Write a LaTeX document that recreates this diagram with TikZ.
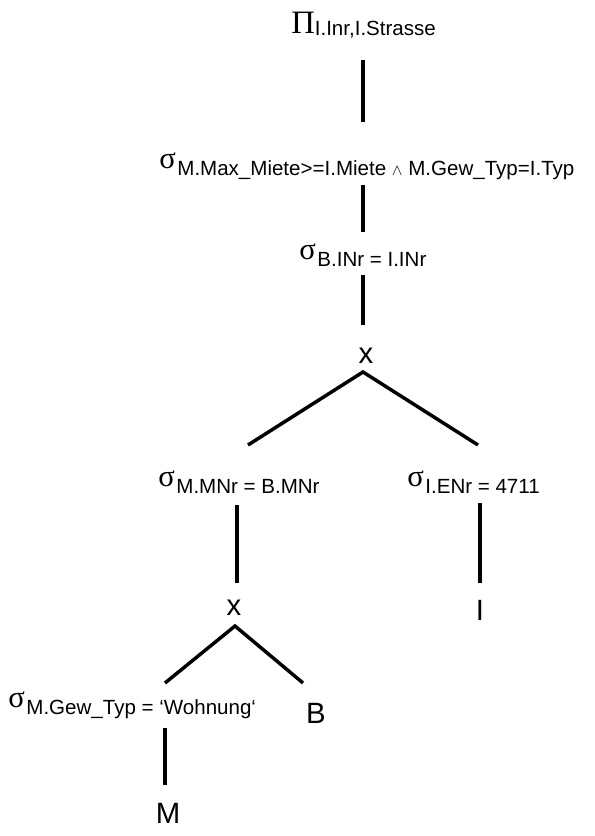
\documentclass[tikz,border=0pt]{standalone}
\usepackage{fontspec}
\setmainfont{Liberation Sans}
\newfontfamily\seriffont{Liberation Serif}
\newcommand{\subfnt}{\fontsize{15.4}{18}\selectfont}
\newcommand{\bigfnt}{\fontsize{22}{26}\selectfont}
\newcommand{\sigfnt}{\seriffont\fontsize{23}{26}\selectfont}
\newcommand{\opsel}[1]{{\sigfnt σ}\kern1.2pt\raisebox{-5.6pt}{\subfnt #1}}
\tikzset{
  lbl/.style={inner sep=0pt, anchor=base west},
  bigl/.style={inner sep=0pt, anchor=base, font=\bigfnt},
  edge/.style={line width=2.6pt, line cap=butt}
}
\begin{document}
\begin{tikzpicture}[x=0.75pt,y=-0.75pt]
\path[use as bounding box, fill=white] (0,0) rectangle (594,836);

% labels
\node[lbl] (proj) at (291,33) {{\seriffont\fontsize{24.5}{28}\selectfont Π}\raisebox{-1.5pt}{\subfnt I.Inr,I.Strasse}};
\node[lbl] (sel1) at (159,168.5) {\opsel{M.Max\_Miete>=I.Miete {\fontsize{12}{14}\selectfont$\wedge$} M.Gew\_Typ=I.Typ}};
\node[lbl] (sel2) at (299,259.5) {\opsel{B.INr = I.INr}};
\node[bigl] (x1) at (366,363) {x};
\node[lbl] (sel3) at (158,486.5) {\opsel{M.MNr = B.MNr}};
\node[lbl] (sel4) at (407,486.5) {\opsel{I.ENr = 4711}};
\node[bigl] (x2) at (234,615) {x};
\node[bigl] (relI) at (480,620) {I};
\node[lbl] (sel5) at (8,707.5) {\opsel{M.Gew\_Typ = ‘Wohnung‘}};
\node[bigl] (relB) at (316,723) {B};
\node[bigl] (relM) at (168,823) {M};

% connector end points
\coordinate (p1a) at (363,60);  \coordinate (p1b) at (363,122);
\coordinate (p2a) at (363,185); \coordinate (p2b) at (363,232);
\coordinate (p3a) at (363,275); \coordinate (p3b) at (363,325);
\coordinate (x1t) at (363,372);
\coordinate (x1l) at (248,445); \coordinate (x1r) at (478,445);
\coordinate (s3a) at (237,505); \coordinate (s3b) at (237,583);
\coordinate (s4a) at (480,503); \coordinate (s4b) at (480,583);
\coordinate (x2t) at (235,626);
\coordinate (x2l) at (165,683); \coordinate (x2r) at (303,683);
\coordinate (s5a) at (165,728); \coordinate (s5b) at (165,785);

% connectors
\draw[edge] (p1a) -- (p1b);
\draw[edge] (p2a) -- (p2b);
\draw[edge] (p3a) -- (p3b);
\draw[edge] (x1l) -- (x1t) -- (x1r);
\draw[edge] (s3a) -- (s3b);
\draw[edge] (s4a) -- (s4b);
\draw[edge] (x2l) -- (x2t) -- (x2r);
\draw[edge] (s5a) -- (s5b);
\end{tikzpicture}
\end{document}
